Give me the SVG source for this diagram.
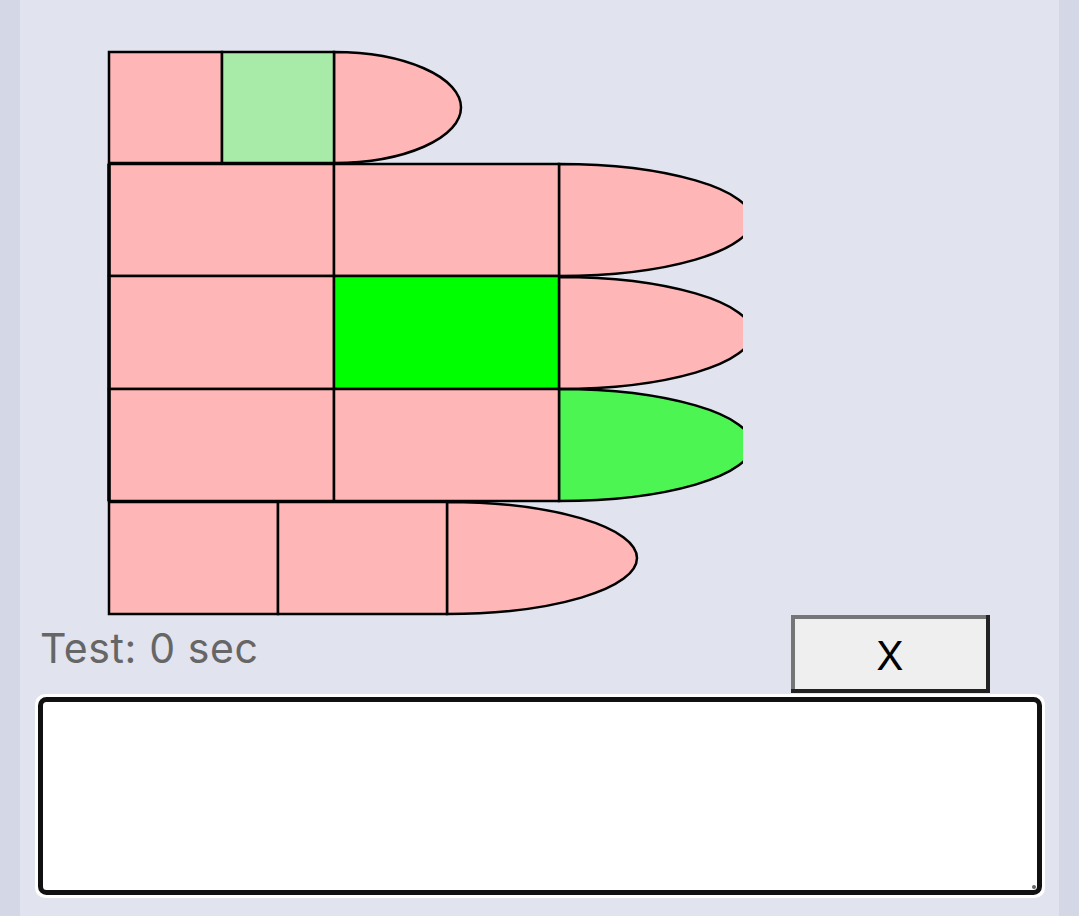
<svg xmlns="http://www.w3.org/2000/svg" width="1079" height="916" viewBox="0 0 1079 916">
<style>
.c{stroke:#000;stroke-width:2.5}
.p{fill:#ffb6b6}
.lg{fill:#a8eaa8}
.g{fill:#00ff00}
.mg{fill:#4cf552}
</style>
<defs>
<clipPath id="clip"><rect x="0" y="0" width="743" height="916"/></clipPath>
</defs>
<rect x="0" y="0" width="1079" height="916" fill="#d4d7e6"/>
<rect x="20" y="0" width="1039" height="916" fill="#e1e3ee"/>
<g id="row1">
<path class="c p" d="M334 52 A127 55.5 0 0 1 334 163 Z"/>
<rect class="c p" x="109" y="52" width="113" height="111"/>
<rect class="c lg" x="222" y="52" width="112" height="111"/>
</g>
<g id="row2">
<path class="c p" clip-path="url(#clip)" d="M559 164 A193 56 0 0 1 559 276 Z"/>
<rect class="c p" x="109" y="164" width="225" height="112"/>
<rect class="c p" x="334" y="164" width="225" height="112"/>
</g>
<g id="row3">
<path class="c p" clip-path="url(#clip)" d="M559 277 A193 56 0 0 1 559 389 Z"/>
<rect class="c p" x="109" y="276" width="225" height="113"/>
<rect class="c g" x="334" y="276" width="225" height="113"/>
</g>
<g id="row4">
<path class="c mg" clip-path="url(#clip)" d="M559 389 A193 56 0 0 1 559 501 Z"/>
<rect class="c p" x="109" y="389" width="225" height="112"/>
<rect class="c p" x="334" y="389" width="225" height="112"/>
</g>
<line x1="109" y1="164" x2="109" y2="501" stroke="#000" stroke-width="3.5"/>
<g id="row5">
<path class="c p" d="M447 502 A190 56 0 0 1 447 614 Z"/>
<rect class="c p" x="109" y="502" width="169" height="112"/>
<rect class="c p" x="278" y="502" width="169" height="112"/>
</g>
<g id="label">
<text x="40" y="663" font-family="Inter, 'Open Sans', sans-serif" font-size="41" letter-spacing="0.6" fill="#666">Test: 0 sec</text>
</g>
<g id="button">
<rect x="791" y="615" width="199" height="78" fill="#efefef"/>
<path d="M793 693 V617 H990" fill="none" stroke="#767676" stroke-width="4"/>
<path d="M988 615 V691 H791" fill="none" stroke="#222" stroke-width="4"/>
<text x="890" y="670" text-anchor="middle" font-family="Inter, 'Liberation Sans', sans-serif" font-size="40" fill="#000">X</text>
</g>
<g id="textarea">
<rect x="35" y="694" width="1010" height="204" rx="10" fill="#fff"/>
<rect x="40.5" y="699.5" width="999" height="193" rx="6" fill="#fff" stroke="#111" stroke-width="5"/>
<circle cx="1034" cy="887" r="2" fill="#666"/>
</g>
</svg>
